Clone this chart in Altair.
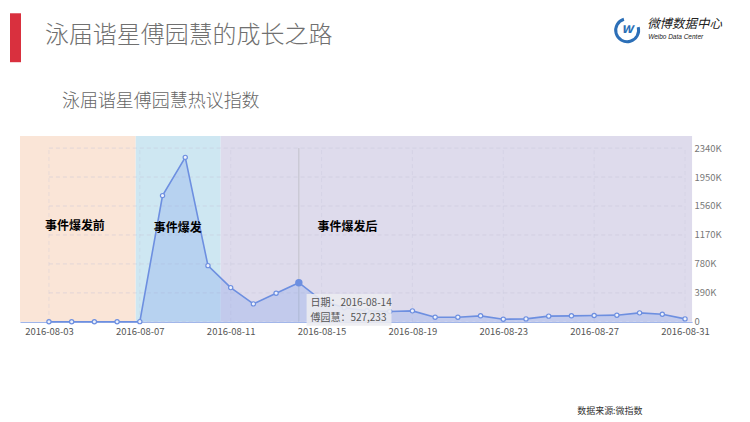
import altair as alt
import pandas as pd

# ---------------- data ----------------
dates = ["2016-08-03", "2016-08-04", "2016-08-05", "2016-08-06", "2016-08-07",
         "2016-08-08", "2016-08-09", "2016-08-10", "2016-08-11", "2016-08-12",
         "2016-08-13", "2016-08-14", "2016-08-15", "2016-08-16", "2016-08-17",
         "2016-08-18", "2016-08-19", "2016-08-20", "2016-08-21", "2016-08-22",
         "2016-08-23", "2016-08-24", "2016-08-25", "2016-08-26", "2016-08-27",
         "2016-08-28", "2016-08-29", "2016-08-30", "2016-08-31"]
values = [2000, 2000, 2000, 2000, 3000,
          1700000, 2215000, 757000, 461000, 242000,
          386000, 527233, 290000, 190000, 150000,
          139000, 148000, 63000, 63000, 81000,
          36000, 40000, 77000, 81000, 85000,
          90000, 121000, 103000, 40000]

phase_names = ["事件爆发前", "事件爆发", "事件爆发后"]
phase_start = [1.725, 6.82, 10.56]      # day of August
phase_end = [6.82, 10.56, 31.31]
phase_colors = ["#fae5d7", "#cee7f2", "#dedbec"]

y_ticks = [0, 390000, 780000, 1170000, 1560000, 1950000, 2340000]
x_ticks = [3, 7, 11, 15, 19, 23, 27, 31]

highlight_date = "2016-08-14"

# ---------------- frames ----------------
df = pd.DataFrame({"date": dates, "value": values})
df["day"] = df["date"].str[-2:].astype(int)
hl = df[df["date"] == highlight_date]

bg = pd.DataFrame({"phase": phase_names, "x0": phase_start, "x1": phase_end})
bg["y0"] = 0
bg["y1"] = 2501000

hgrid = pd.DataFrame({"v": y_ticks})
hgrid["x0"] = x_ticks[0]
hgrid["x1"] = x_ticks[-1]
vgrid = pd.DataFrame({"d": x_ticks})
vgrid["y0"] = 0
vgrid["y1"] = y_ticks[-1]

W, H = 673, 186
LINE = "#6d8fe0"
CJK = "Noto Sans CJK SC"

xs = alt.Scale(domain=[1.725, 31.31], nice=False, zero=False)
ys = alt.Scale(domain=[0, 2501000], nice=False)

AX = alt.Axis(
    values=x_ticks, grid=False, ticks=False, domainColor="#8ea8e8",
    labelExpr="'2016-08-' + (datum.value < 10 ? '0' : '') + datum.value",
    labelFont=CJK, labelFontSize=9.5, labelColor="#555", labelPadding=5,
    labelOverlap=False, title=None)
AY = alt.Axis(
    orient="right", values=y_ticks, grid=False, ticks=False, domain=False,
    labelExpr="datum.value == 0 ? '0' : (datum.value / 1000) + 'K'",
    labelFont=CJK, labelFontSize=9.5, labelColor="#777", labelPadding=2,
    labelOverlap=False, labelBound=False, title=None)


def X(field):
    return alt.X(field, scale=xs, axis=AX)


def Y(field):
    return alt.Y(field, scale=ys, axis=AY)


background = alt.Chart(bg).mark_rect().encode(
    x=X("x0:Q"), x2="x1:Q", y=Y("y0:Q"), y2="y1:Q",
    color=alt.Color("phase:N", scale=alt.Scale(domain=phase_names, range=phase_colors), legend=None),
)

hg = alt.Chart(hgrid).mark_rule(color="#c4c3d6", strokeDash=[4, 3], strokeWidth=1, opacity=0.45).encode(
    x=X("x0:Q"), x2="x1:Q", y=Y("v:Q"))
vg = alt.Chart(vgrid).mark_rule(color="#c4c3d6", strokeDash=[4, 3], strokeWidth=1, opacity=0.3).encode(
    x=X("d:Q"), y=Y("y0:Q"), y2="y1:Q")

cursor = alt.Chart(hl).mark_rule(color="#c2c2ca", strokeWidth=1).encode(
    x=X("day:Q"), y=Y("y0:Q"), y2="y1:Q"
).transform_calculate(y0="0", y1="2340000")

area = alt.Chart(df).mark_area(color="#80a2ea", opacity=0.3).encode(x=X("day:Q"), y=Y("value:Q"))
line = alt.Chart(df).mark_line(color=LINE, strokeWidth=1.6).encode(x=X("day:Q"), y=Y("value:Q"))
pts = alt.Chart(df).mark_point(shape="circle", filled=True, fill="#eef2fc", stroke=LINE,
                               strokeWidth=1.2, size=18, opacity=1).encode(x=X("day:Q"), y=Y("value:Q"))
hpt = alt.Chart(hl).mark_point(shape="circle", filled=True, color=LINE, size=55, opacity=1).encode(
    x=X("day:Q"), y=Y("value:Q"))

# tooltip box (static)
tip_box = alt.Chart(hl).mark_rect(color="#ececf0", opacity=0.88).encode(
    x=alt.value(287), x2=alt.value(372), y=alt.value(158), y2=alt.value(190))
tip1 = alt.Chart(hl).mark_text(align="left", baseline="middle", font=CJK, fontSize=10, color="#555").encode(
    x=alt.value(291), y=alt.value(167), text=alt.value("日期：2016-08-14"))
tip2 = alt.Chart(hl).mark_text(align="left", baseline="middle", font=CJK, fontSize=10, color="#555").encode(
    x=alt.value(291), y=alt.value(182), text=alt.value("傅园慧：527,233"))


def label(txt, x, y, size, color="#000", weight="normal", align="center", style="normal", font=CJK):
    return alt.Chart(hl).mark_text(align=align, baseline="middle", font=font, fontSize=size,
                                   color=color, fontWeight=weight, fontStyle=style).encode(
        x=alt.value(x), y=alt.value(y), text=alt.value(txt))


phase_labels = [
    label(phase_names[0], 55, 90, 12, weight="bold"),
    label(phase_names[1], 158, 92, 12, weight="bold"),
    label(phase_names[2], 328, 91, 12, weight="bold"),
]

red_bar = alt.Chart(hl).mark_rect(color="#d9303e").encode(
    x=alt.value(-10), x2=alt.value(1), y=alt.value(-123), y2=alt.value(-74))
title = label("泳届谐星傅园慧的成长之路", 25, -100, 24, color="#707070", align="left", weight=300)
subtitle = label("泳届谐星傅园慧热议指数", 42, -34, 18, color="#666", align="left", weight=300)
source = label("数据来源:微指数", 558, 275, 9, color="#333", align="left")

logo_arc = alt.Chart(hl).mark_arc(color="#2c6fb7", theta=1.3, theta2=6.0, radius=13, radius2=10).encode(
    x=alt.value(608), y=alt.value(-106))
logo_w = label("w", 608, -107, 14, color="#2c6fb7", weight="bold", style="italic")
logo_t1 = label("微博数据中心", 628, -112, 12.5, color="#222", align="left", style="italic")
logo_t2 = label("Weibo Data Center", 629, -99, 6.5, color="#222", align="left", style="italic",
                font="Liberation Sans")

chart = alt.layer(
    background, hg, vg, cursor, area, line, pts, hpt, tip_box, tip1, tip2,
    *phase_labels, red_bar, title, subtitle, source, logo_arc, logo_w, logo_t1, logo_t2,
).properties(
    width=W, height=H,
    autosize=alt.AutoSizeParams(type="none"),
    padding={"left": 12, "top": 128, "right": 50, "bottom": 100},
    background="white",
).configure_view(stroke=None).configure_axis(labelOverlap=False)

chart.save("out.html", embed_options={"renderer": "svg", "actions": False})
